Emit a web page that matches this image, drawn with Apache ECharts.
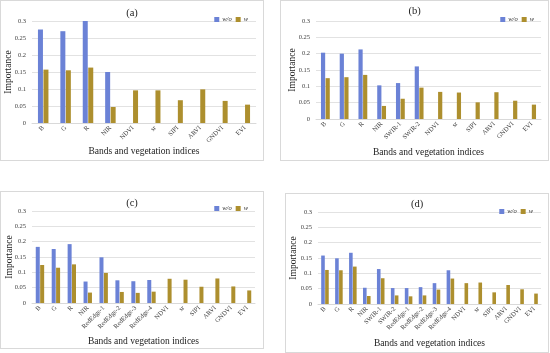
<!DOCTYPE html>
<html><head><meta charset="utf-8">
<script src="https://cdn.jsdelivr.net/npm/echarts@6/dist/echarts.min.js"></script>
<style>
html,body{margin:0;padding:0;background:#fff;width:550px;height:353px;overflow:hidden;}
.p{position:absolute;box-sizing:border-box;border:1px solid #d9d9d9;background:#fff;}
</style></head><body>
<div id="pa" class="p" style="left:0px;top:0px;width:264px;height:161px;"></div>
<div id="pb" class="p" style="left:280px;top:0px;width:269px;height:161px;"></div>
<div id="pc" class="p" style="left:0px;top:191px;width:264px;height:158px;"></div>
<div id="pd" class="p" style="left:285px;top:193px;width:264px;height:160px;"></div>
<script>
// ---- data ----
var yTicks = [0, 0.05, 0.1, 0.15, 0.2, 0.25, 0.3];
var seriesNames = ['w/o', 'w'];

var catsA = ['B','G','R','NIR','NDVI','sr','SIPI','ARVI','GNDVI','EVI'];
var woA = [0.275,0.27,0.3,0.15,null,null,null,null,null,null];
var wA  = [0.157,0.155,0.163,0.047,0.096,0.096,0.067,0.099,0.065,0.054];

var catsB = ['B','G','R','NIR','SWIR-1','SWIR-2','NDVI','sr','SIPI','ARVI','GNDVI','EVI'];
var woB = [0.203,0.2,0.213,0.103,0.11,0.161,null,null,null,null,null,null];
var wB  = [0.125,0.128,0.135,0.04,0.062,0.096,0.083,0.081,0.051,0.082,0.056,0.044];

var catsC = ['B','G','R','NIR','RedEdge-1','RedEdge-2','RedEdge-3','RedEdge-4','NDVI','sr','SIPI','ARVI','GNDVI','EVI'];
var woC = [0.183,0.176,0.192,0.07,0.149,0.074,0.071,0.075,null,null,null,null,null,null];
var wC  = [0.124,0.115,0.126,0.034,0.098,0.036,0.033,0.037,0.079,0.076,0.053,0.080,0.054,0.041];

var catsD = ['B','G','R','NIR','SWIR-1','SWIR-2','RedEdge-1','RedEdge-2','RedEdge-3','RedEdge-4','NDVI','sr','SIPI','ARVI','GNDVI','EVI'];
var woD = [0.158,0.149,0.167,0.053,0.114,0.052,0.052,0.055,0.068,0.11,null,null,null,null,null,null];
var wD  = [0.111,0.11,0.122,0.026,0.084,0.028,0.025,0.028,0.047,0.083,0.068,0.07,0.038,0.062,0.048,0.034];

// ---- drawing ----
var FONT = '"Liberation Serif", "DejaVu Serif", serif';
var BLUE = '#6b82d6', OLIVE = '#ad8f2e';

function panel(id, title, cats, wo, w, L) {
  var ch = echarts.init(document.getElementById(id), null, {renderer:'canvas'});
  ch.setOption({
    animation:false,
    textStyle:{fontFamily:FONT},
    title:{text:title, left:'center', top:L.titleTop,
      textStyle:{fontFamily:FONT, fontSize:10.5, fontWeight:'normal', color:'#222'}},
    legend:{data:seriesNames, right:L.legRight, top:L.legTop, itemWidth:5, itemHeight:5, itemGap:4,
      icon:'rect', textStyle:{fontFamily:FONT, fontSize:6.5, fontStyle:'italic', color:'#333', padding:[0,0,0,-2]}},
    grid:{left:L.left, right:L.right, top:L.top, bottom:L.bottom, containLabel:false, outerBoundsMode:'none'},
    xAxis:{type:'category', data:cats,
      name:'Bands and vegetation indices', nameLocation:'middle', nameGap:L.nameGap, nameMoveOverlap:false,
      nameTextStyle:{fontFamily:FONT, fontSize:9.5, color:'#222'},
      axisLine:{show:true, lineStyle:{color:'#d9d9d9'}}, axisTick:{show:false},
      axisLabel:{rotate:45, fontSize:6.5, color:'#404040', fontFamily:FONT, margin:4, interval:0}},
    yAxis:{type:'value', min:0, max:0.3, interval:0.05,
      name:'Importance', nameLocation:'middle', nameGap:L.yNameGap, nameRotate:90, nameMoveOverlap:false,
      nameTextStyle:{fontFamily:FONT, fontSize:9.5, color:'#222'},
      axisLine:{show:false}, axisTick:{show:false},
      splitLine:{lineStyle:{color:'#e2e2e2'}},
      axisLabel:{fontSize:6.5, color:'#404040', fontFamily:FONT, margin:6,
        formatter:function(v){ return String(+v.toFixed(2)); }}},
    series:[
      {name:seriesNames[0], type:'bar', data:wo, barWidth:L.bw, barGap:'10%', itemStyle:{color:BLUE}},
      {name:seriesNames[1], type:'bar', data:w, barWidth:L.bw, barGap:'10%', itemStyle:{color:OLIVE}}
    ]
  });
}

panel('pa','(a)',catsA,woA,wA,{titleTop:2,legRight:10,legTop:10,left:31,right:7,top:20,bottom:37,nameGap:23,yNameGap:19,bw:5});
panel('pb','(b)',catsB,woB,wB,{titleTop:0,legRight:9,legTop:10,left:35,right:7,top:20,bottom:41,nameGap:28,yNameGap:19,bw:4.2});
panel('pc','(c)',catsC,woC,wC,{titleTop:1,legRight:10,legTop:8,left:31,right:8,top:19,bottom:45,nameGap:33,yNameGap:18,bw:4});
panel('pd','(d)',catsD,woD,wD,{titleTop:0,legRight:10,legTop:9,left:32,right:7,top:18,bottom:48,nameGap:34,yNameGap:20,bw:3.6});
</script>
</body></html>
